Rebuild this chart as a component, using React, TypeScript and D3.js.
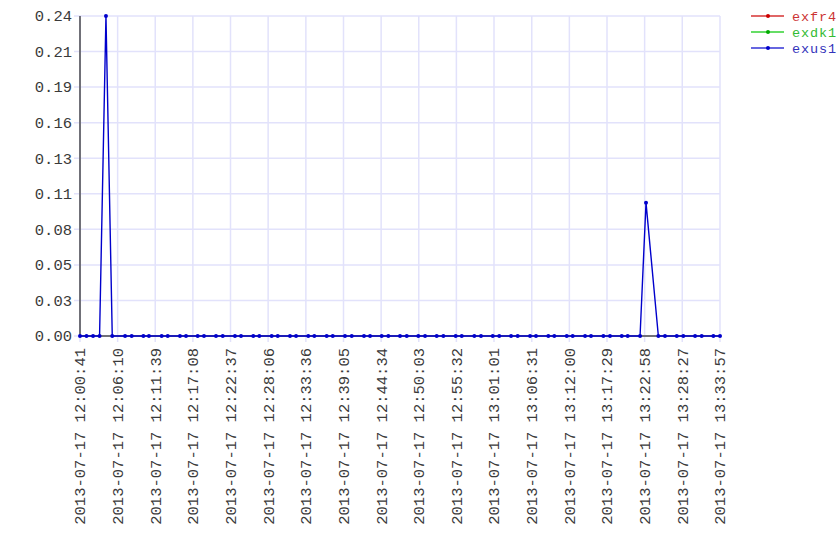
import React from "react";
import * as d3 from "d3";

const seriesNames = ["exfr4", "exdk1", "exus1"];
const seriesColors = ["#cc0000", "#00aa00", "#0000cc"];
const legendLineColors = ["#e06666", "#66dd66", "#6666e0"];
const legendTextColors = ["#cc3333", "#33bb33", "#3333bb"];

const times = [
  "12:00:41", "12:01:38", "12:02:35", "12:03:32", "12:04:28", "12:05:23",
  "12:07:15", "12:08:13", "12:09:55", "12:10:44", "12:12:35", "12:13:28",
  "12:15:15", "12:16:08", "12:17:50", "12:18:45", "12:20:30", "12:21:29",
  "12:23:16", "12:24:09", "12:25:56", "12:26:49", "12:28:37", "12:29:30",
  "12:31:17", "12:32:10", "12:33:57", "12:34:50", "12:36:38", "12:37:31",
  "12:39:18", "12:40:17", "12:42:04", "12:42:57", "12:44:39", "12:45:37",
  "12:47:19", "12:48:18", "12:49:59", "12:50:58", "12:52:40", "12:53:38",
  "12:55:26", "12:56:19", "12:58:09", "12:59:07", "13:00:50", "13:01:47",
  "13:03:30", "13:04:28", "13:06:16", "13:07:08", "13:08:56", "13:09:48",
  "13:11:37", "13:12:29", "13:14:17", "13:15:09", "13:16:57", "13:17:55",
  "13:19:38", "13:20:30", "13:22:18", "13:23:10", "13:24:58", "13:25:56",
  "13:27:39", "13:28:36", "13:30:19", "13:31:17", "13:32:59", "13:33:57",
];

const exus1 = [
  0, 0, 0, 0, 0.24, 0,
  0, 0, 0, 0, 0, 0,
  0, 0, 0, 0, 0, 0,
  0, 0, 0, 0, 0, 0,
  0, 0, 0, 0, 0, 0,
  0, 0, 0, 0, 0, 0,
  0, 0, 0, 0, 0, 0,
  0, 0, 0, 0, 0, 0,
  0, 0, 0, 0, 0, 0,
  0, 0, 0, 0, 0, 0,
  0, 0, 0, 0.1, 0, 0,
  0, 0, 0, 0, 0, 0,
];
const exfr4: number[] = [];
const exdk1: number[] = [];

const yTickValues = [0, 0.0267, 0.0533, 0.08, 0.1067, 0.1333, 0.16, 0.1867, 0.2133, 0.24];
const yTickLabels = ["0.00", "0.03", "0.05", "0.08", "0.11", "0.13", "0.16", "0.19", "0.21", "0.24"];

const xTickLabels = [
  "2013-07-17 12:00:41", "2013-07-17 12:06:10", "2013-07-17 12:11:39",
  "2013-07-17 12:17:08", "2013-07-17 12:22:37", "2013-07-17 12:28:06",
  "2013-07-17 12:33:36", "2013-07-17 12:39:05", "2013-07-17 12:44:34",
  "2013-07-17 12:50:03", "2013-07-17 12:55:32", "2013-07-17 13:01:01",
  "2013-07-17 13:06:31", "2013-07-17 13:12:00", "2013-07-17 13:17:29",
  "2013-07-17 13:22:58", "2013-07-17 13:28:27", "2013-07-17 13:33:57",
];

const parse = d3.timeParse("%Y-%m-%d %H:%M:%S");
const W = 840;
const H = 560;
const left = 80;
const right = 720;
const top = 16;
const bottom = 336;
const FONT = "'Liberation Mono', 'Courier New', monospace";

export default function App() {
  const dates = times.map((t) => parse("2013-07-17 " + t) as Date);
  const xTickDates = xTickLabels.map((t) => parse(t) as Date);
  const x = d3
    .scaleTime()
    .domain([xTickDates[0], xTickDates[xTickDates.length - 1]])
    .range([left, right]);
  const y = d3.scaleLinear().domain([0, 0.24]).range([bottom, top]);

  const allSeries = [exfr4, exdk1, exus1];
  const line = d3
    .line<[Date, number]>()
    .x((d) => x(d[0]))
    .y((d) => y(d[1]));

  const gridColor = "#e2e2fb";
  const axisColor = "#707078";

  return (
    <svg
      width={W}
      height={H}
      style={{ position: "absolute", left: 0, top: 0, background: "#fff" }}
      fontFamily={FONT}
    >
      {yTickValues.map((v, i) => (
        <line
          key={"hg" + i}
          x1={left - 6}
          x2={right}
          y1={y(v)}
          y2={y(v)}
          stroke={gridColor}
          strokeWidth={1.5}
        />
      ))}
      {xTickDates.map((d, i) => (
        <line
          key={"vg" + i}
          x1={x(d)}
          x2={x(d)}
          y1={top}
          y2={bottom + 6}
          stroke={gridColor}
          strokeWidth={1.5}
        />
      ))}
      <line x1={left} x2={left} y1={top} y2={bottom} stroke={axisColor} strokeWidth={2} />
      <line x1={left} x2={right} y1={bottom} y2={bottom} stroke={axisColor} strokeWidth={2} />

      {yTickValues.map((v, i) => (
        <text
          key={"yl" + i}
          x={left - 8}
          y={y(v)}
          dy="0.35em"
          textAnchor="end"
          fontSize={15.5}
          fill="#3a3a3a"
        >
          {yTickLabels[i]}
        </text>
      ))}
      {xTickDates.map((d, i) => (
        <text
          key={"xl" + i}
          transform={`translate(${x(d)},${bottom + 12}) rotate(-90)`}
          dy="0.35em"
          textAnchor="end"
          fontSize={15.5}
          fill="#3a3a3a"
        >
          {xTickLabels[i]}
        </text>
      ))}

      {allSeries.map((vals, si) => {
        const pts: [Date, number][] = vals.map((v, j) => [dates[j], v]);
        if (!pts.length) return null;
        return (
          <g key={"s" + si}>
            <path d={line(pts) || ""} fill="none" stroke={seriesColors[si]} strokeWidth={1.4} />
            {pts.map((p, j) => (
              <circle key={j} cx={x(p[0])} cy={y(p[1])} r={2} fill={seriesColors[si]} />
            ))}
          </g>
        );
      })}

      {seriesNames.map((n, i) => {
        const ly = 16 + i * 16;
        return (
          <g key={"lg" + i}>
            <line x1={751} x2={784} y1={ly} y2={ly} stroke={legendLineColors[i]} strokeWidth={2} />
            <circle cx={768} cy={ly} r={2} fill={seriesColors[i]} />
            <text
              x={792}
              y={ly}
              dy="0.35em"
              fontSize={13.5}
              letterSpacing={0.9}
              fill={legendTextColors[i]}
            >
              {n}
            </text>
          </g>
        );
      })}
    </svg>
  );
}
